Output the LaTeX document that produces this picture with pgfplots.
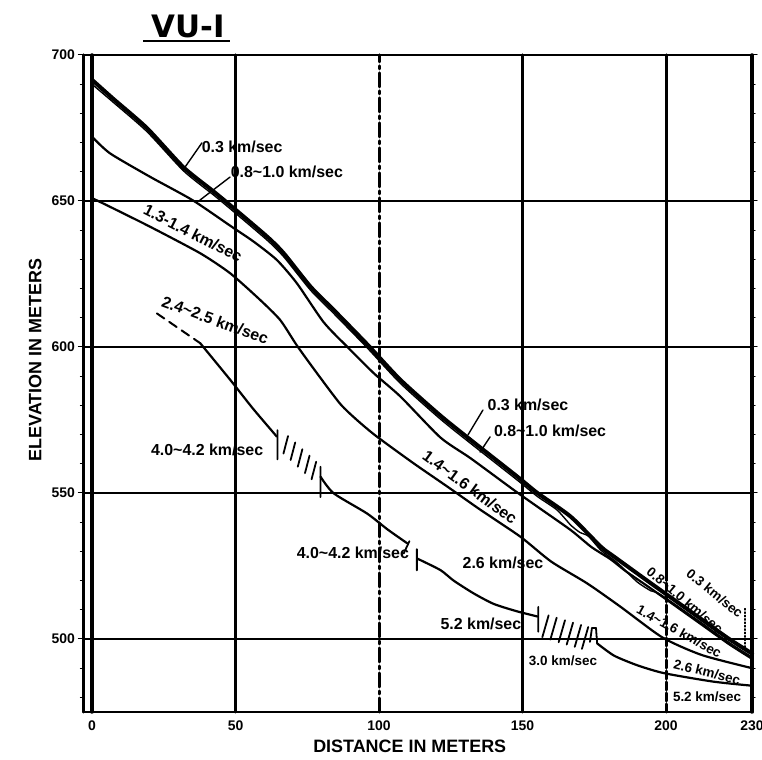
\documentclass[border=0pt]{standalone}
\usepackage{fontspec}
\setmainfont{Liberation Sans}
\newfontfamily\titlefont{DejaVu Sans}
\usepackage{pgfplots}
\pgfplotsset{compat=1.18}
\newcommand\lab{\bfseries\fontsize{16}{17}\selectfont}
\newcommand\labs{\bfseries\fontsize{13.5}{14}\selectfont}
\begin{document}
\begin{tikzpicture}[x=1bp,y=1bp]
\useasboundingbox (-83.4,-48) rectangle (678.6,712);
\begin{axis}[
  at={(0,0)}, anchor=south west,
  scale only axis, width=668.7bp, height=657bp,
  xmin=-3, xmax=230, ymin=475, ymax=700,
  clip=false,
  axis line style={line width=1.2bp},
  xtick={0,50,100,150,200,230},
  ytick={500,550,600,650,700},
  minor ytick={480,490,...,690},
  xtick style={draw=none},
  ytick style={line width=1bp, black},
  tick align=outside,
  major tick length=5bp, minor tick length=3bp,
  ticklabel style={font=\bfseries\fontsize{14}{14}\selectfont},
  /pgf/number format/assume math mode=true,
  /pgf/number format/1000 sep={},
  ymajorgrids, grid style={black, line width=1.1bp},
  xlabel={DISTANCE IN METERS},
  ylabel={ELEVATION IN METERS},
  label style={font=\bfseries\fontsize{18}{18}\selectfont},
  xlabel style={at={(axis description cs:0.488,0)}, anchor=north, yshift=-24bp},
  ylabel style={at={(axis description cs:-0.072,0.536)}, anchor=center},
  unbounded coords=jump,
  line join=round, line cap=round,
]
% frame and vertical grid lines
\draw[line width=3bp] (axis cs:-3,475) -- (axis cs:-3,700);
\draw[line width=3.5bp] (axis cs:0,475) -- (axis cs:0,700);
\draw[line width=2.5bp] (axis cs:-3,475) -- (axis cs:230,475);
\draw[line width=3.5bp] (axis cs:230,475) -- (axis cs:230,700);
\draw[line width=3bp] (axis cs:50,475) -- (axis cs:50,700);
\draw[line width=3bp, dash pattern=on 14bp off 4bp on 3bp off 4bp] (axis cs:100,475) -- (axis cs:100,700);
\draw[line width=3bp] (axis cs:150,475) -- (axis cs:150,700);
\draw[line width=3bp] (axis cs:200,520) -- (axis cs:200,700);
\draw[line width=3bp, dash pattern=on 8bp off 3bp] (axis cs:200,475) -- (axis cs:200,520);

% surface (0.3 km/sec top), thick
\addplot[black, line width=4bp, smooth, tension=0.4] coordinates {
(0,691.5) (7.4,685) (19.1,675) (31.9,661.5) (42.3,653.3) (48.2,648.5) (61,637.8)
(66.8,632.1) (76.1,620.7) (84.2,612.7) (95.8,601) (107.5,588.7) (121.4,576.5)
(131.9,568.2) (148.2,555.6) (155.2,550) (166.8,541.9) (177.3,531.6) (181.9,528.2)
(194.7,519.1) (212,507) (222,500) (230,495)};
% base of 0.3 km/sec layer
\addplot[black, line width=1.4bp, smooth, tension=0.4] coordinates {
(0,690) (7.4,683.8) (19.1,673.8) (31.9,660.3) (42.3,652.1) (48.2,647.3) (61,636.6)
(66.8,630.9) (76.1,619.5) (84.2,611.5) (95.8,599.8) (107.5,587.5) (121.4,575.3)
(131.9,567) (148.2,554.4) (155.2,548.8) (162,544.2) (166.8,539) (170,536.5) (173,535.2)
(177.3,530.4) (181.9,527) (185,524.3) (190,519.5) (194.7,516.5) (198,515.3)
(212,505.8) (222,498.8) (230,493.8)};
% base of 0.8-1.0 layer
\addplot[black, line width=2.2bp, smooth, tension=0.4] coordinates {
(0,672) (6.3,666.3) (20.2,658.3) (35,650.3) (48.2,641.5) (56.3,636.1) (64.4,629.8)
(71.4,621.8) (80.7,608.5) (88.9,600.1) (98.2,591) (107.5,583) (121.4,569)
(131.9,561.9) (147,551) (155.2,545.3) (166.8,537.3) (174,531.5) (180.7,527.3)
(186,523.2) (194.7,517.3) (212,505.2) (222,498.2) (230,493.2)};
% base of 1.3-1.4 / 1.4-1.6 layer
\addplot[black, line width=2.2bp, smooth, tension=0.4] coordinates {
(0,651) (6.3,648) (20.2,641.2) (37.7,632.1) (48.2,625.2) (58.6,616.1) (65.6,609.2)
(71.4,600.5) (78.4,591) (86.5,580.5) (92.3,575) (99,569.5) (112,560.2) (123.8,552.2)
(135.4,544.2) (149.3,535) (160,526.5) (172.6,519) (184.2,511) (198.8,500.5)
(212.5,494.5) (230,490)};
% 2.4-2.5 dashed start
\addplot[black, line width=2bp, dash pattern=on 9bp off 6bp] coordinates {
(22.6,611.5) (37.7,601.3)};
% top of 4.0-4.2 / 5.2 layer
\addplot[black, line width=2.2bp, smooth, tension=0.4] coordinates {
(37.7,601.3) (48.2,588.7) (56,579) (64.4,569.3)};
\addplot[black, line width=2.2bp, smooth, tension=0.4] coordinates {
(79.6,555.6) (84.2,549.9) (95.8,543) (103,537.5) (109.8,532.8)};
\addplot[black, line width=2.2bp, smooth, tension=0.4] coordinates {
(113.4,527.5) (121.4,523.6) (126,520) (133,515.6) (140,512) (148,509.5) (155.2,507.7)};
\addplot[black, line width=2.2bp, smooth, tension=0.4] coordinates {
(176,498.5) (181.9,494.3) (190,491) (199.3,488.3) (216.5,485.4) (230,484)};
% hatch marks and small ticks
\addplot[black, line width=1.8bp] coordinates {
(64.6,561.5) (64.6,571.5) (nan,nan)
(66.7,563.5) (68.3,569.5) (nan,nan)
(69.2,561.3) (70.8,567.3) (nan,nan)
(71.7,559) (73.3,565) (nan,nan)
(74.2,556.8) (75.8,562.8) (nan,nan)
(76.5,554.7) (78.1,560.7) (nan,nan)
(79.6,548.6) (79.6,559) (nan,nan)
(108.6,529.3) (110.6,533.5) (nan,nan)
(113.2,523.5) (113.2,530.8) (nan,nan)
(155.5,502.5) (155.5,511) (nan,nan)
(156.9,500.6) (159.1,508.1) (nan,nan)
(159.7,499.8) (161.9,507.3) (nan,nan)
(162.6,498.9) (164.8,506.4) (nan,nan)
(165.4,498.1) (167.6,505.6) (nan,nan)
(168.2,497.3) (170.4,504.8) (nan,nan)
(170.7,496.6) (172.9,504.1) (nan,nan)
(173.5,499) (174.2,503.8) (175.6,503.8) (176,498.5)};
% pointers
\addplot[black, line width=1.4bp] coordinates {
(38.3,669.9) (31.7,660.6) (nan,nan)
(48.1,658.2) (37.6,650.3) (nan,nan)
(136.2,578.4) (131,569.9) (nan,nan)
(138.7,569.2) (135.2,564)};
\addplot[black, line width=1.4bp, dotted] coordinates {(227.5,496) (227.5,511)};

% labels
\node[font=\lab] at (axis cs:52.3,668.5) {0.3 km/sec};
\node[font=\lab] at (axis cs:67.9,659.9) {0.8\textasciitilde1.0 km/sec};
\node[font=\lab, rotate=-27] at (axis cs:35.2,639) {1.3-1.4 km/sec};
\node[font=\lab, rotate=-20] at (axis cs:42.9,609.2) {2.4\textasciitilde2.5 km/sec};
\node[font=\lab] at (axis cs:40.1,564.7) {4.0\textasciitilde4.2 km/sec};
\node[font=\lab] at (axis cs:90.9,529.5) {4.0\textasciitilde4.2 km/sec};
\node[font=\lab] at (axis cs:151.9,580.1) {0.3 km/sec};
\node[font=\lab] at (axis cs:159.6,571.4) {0.8\textasciitilde1.0 km/sec};
\node[font=\lab, rotate=-36] at (axis cs:131.7,552) {1.4\textasciitilde1.6 km/sec};
\node[font=\lab] at (axis cs:143.2,525.9) {2.6 km/sec};
\node[font=\lab] at (axis cs:135.5,505.1) {5.2 km/sec};
\node[font=\labs] at (axis cs:164.1,492.5) {3.0 km/sec};
\node[font=\labs, rotate=-39, inner sep=0pt] at (axis cs:217,515.6) {0.3 km/sec};
\node[font=\labs, rotate=-40, inner sep=0pt] at (axis cs:206.6,513.2) {0.8\textasciitilde1.0 km/sec};
\node[font=\labs, rotate=-29, inner sep=0pt] at (axis cs:204.6,502.6) {1.4\textasciitilde1.6 km/sec};
\node[font=\labs, rotate=-14, inner sep=0pt] at (axis cs:214.3,488.7) {2.6 km/sec};
\node[font=\labs, inner sep=0pt] at (axis cs:214.3,480.1) {5.2 km/sec};
\end{axis}
\node[font=\titlefont\bfseries\fontsize{31}{31}\selectfont] at (104.6,685.5) {VU-I};
\draw[line width=1.8bp] (59.6,671) -- (146.6,671);
\end{tikzpicture}
\end{document}
